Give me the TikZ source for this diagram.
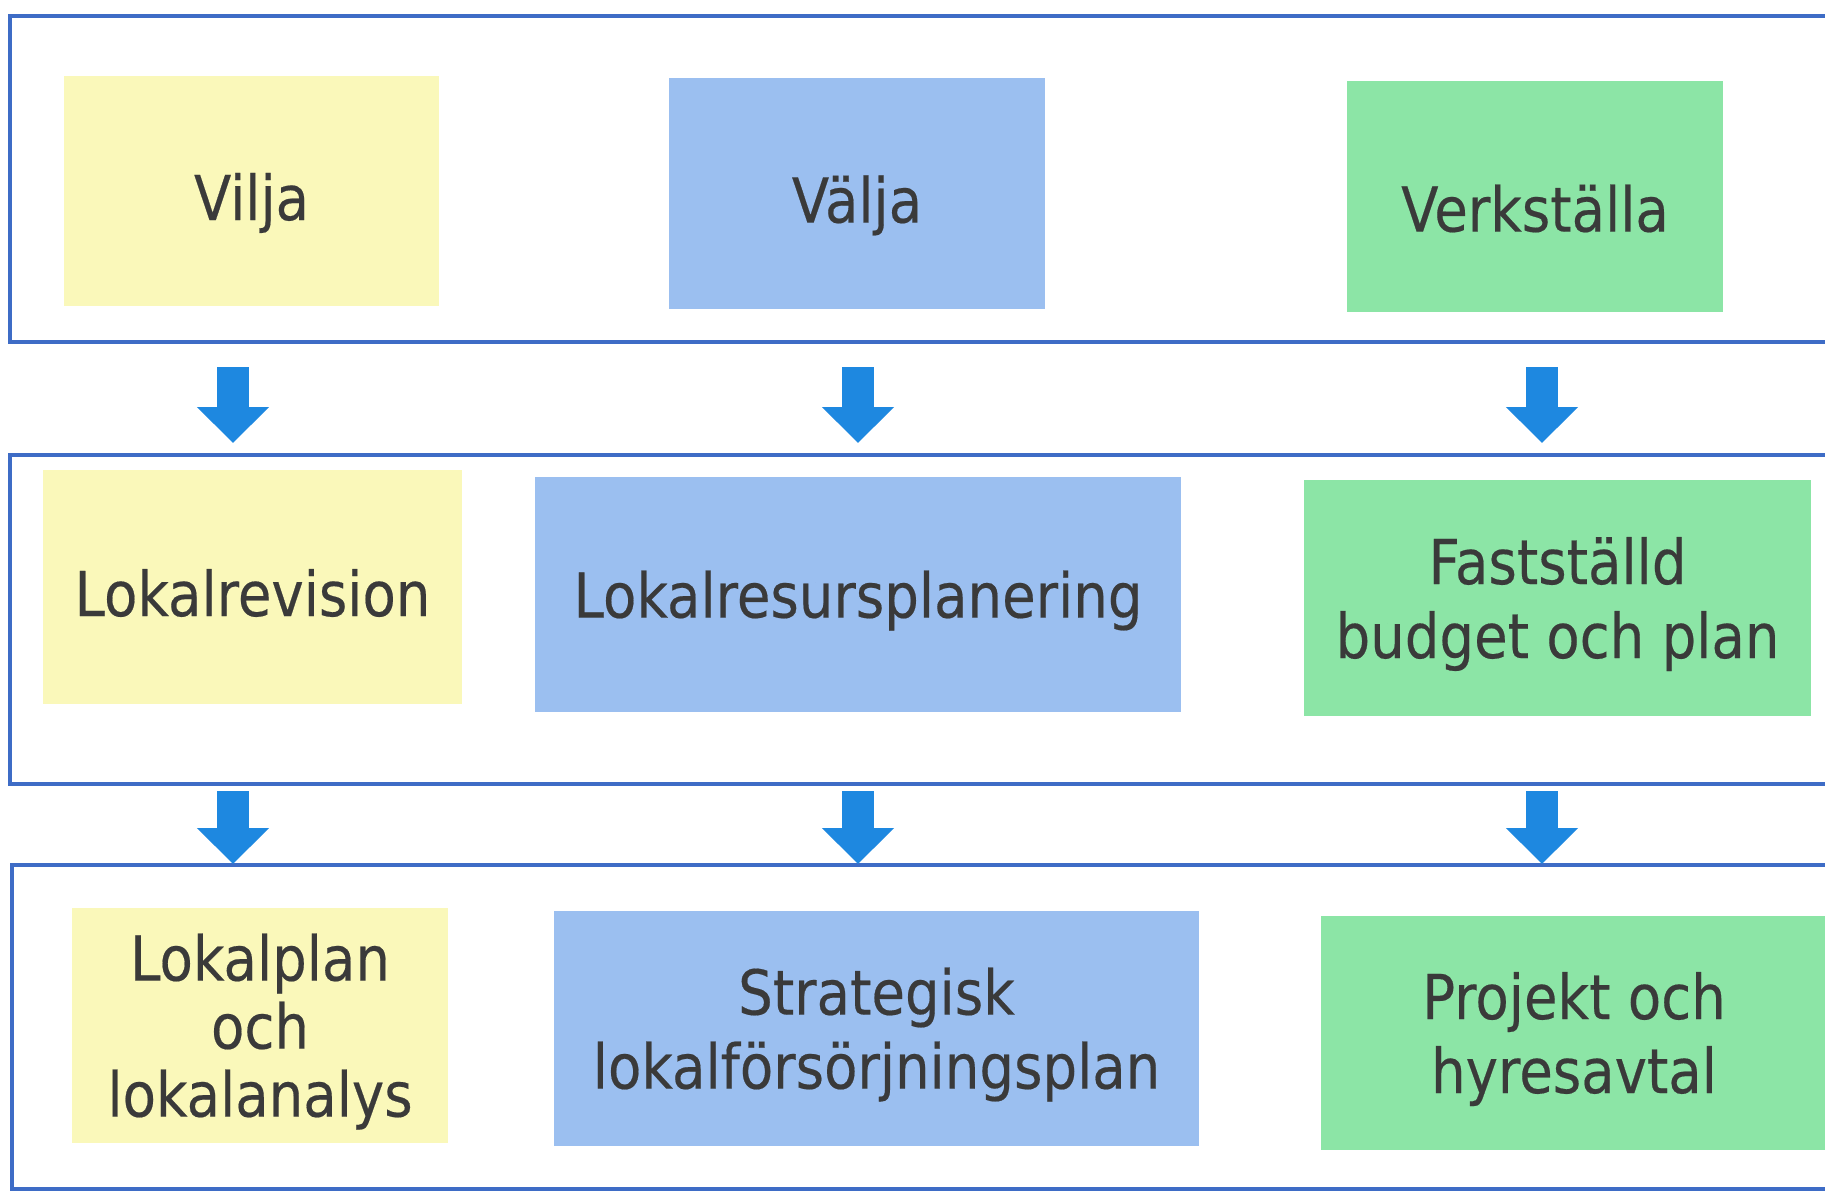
\documentclass[tikz,border=0pt]{standalone}
\usepackage{fontspec}
\setmainfont{DejaVu Sans}[FakeStretch=0.88,FakeBold=0.3]
\usetikzlibrary{arrows.meta}

\definecolor{ramblue}{RGB}{62,108,198}
\definecolor{pilblue}{RGB}{30,136,224}
\definecolor{gulfg}{RGB}{250,248,186}
\definecolor{blafg}{RGB}{155,191,240}
\definecolor{gronfg}{RGB}{140,229,166}
\definecolor{textgra}{RGB}{58,58,58}

\tikzset{
  ruta/.style={rectangle, inner sep=0pt},
  rutatext/.style={text=textgra, align=center, inner sep=0pt,
    font=\fontsize{31}{37}\selectfont, yshift=-3pt},
  txt/.style={label={[rutatext]center:{#1}}},
  txttopp/.style={label={[rutatext, yshift=-3pt]center:{#1}}},
  gul/.style={ruta, fill=gulfg},
  bla/.style={ruta, fill=blafg},
  gron/.style={ruta, fill=gronfg},
  ram/.style={draw=ramblue, line width=1.8pt},
  pil/.style={draw=pilblue, line width=16pt,
    -{Triangle[length=18pt,width=35pt]}}
}

\begin{document}
\begin{tikzpicture}[x=0.5pt, y=-0.5pt]
  \fill[white] (0,0) rectangle (1825,1193);
  \useasboundingbox (0,0) rectangle (1825,1193);
  % three frames, open to the right
  \draw[ram] (1825,16)  -| (10,342)  -- (1825,342);
  \draw[ram] (1825,455) -| (10,784)  -- (1825,784);
  \draw[ram] (1825,865) -| (12,1189) -- (1825,1189);
  % top row
  \node[gul,  minimum width=187.5pt, minimum height=115pt, txttopp=Vilja] (vilja) at (251.5,191) {};
  \node[bla,  minimum width=188pt, minimum height=115pt, txttopp=Välja] (valja) at (857,193.5) {};
  \node[gron, minimum width=188pt, minimum height=115pt, txttopp=Verkställa] (verk) at (1535,196.5) {};
  % middle row
  \node[gul,  minimum width=209.5pt, minimum height=117pt, txt=Lokalrevision] (revision) at (252.5,587) {};
  \node[bla,  minimum width=323pt, minimum height=117.5pt, txt=Lokalresursplanering] (resurs) at (858,594.5) {};
  \node[gron, minimum width=253.5pt, minimum height=118pt,
    txt=Fastställd\\budget och plan] (budget) at (1557.5,598) {};
  % bottom row
  \node[gul,  minimum width=188pt, minimum height=117.5pt,
    label={[rutatext, font=\fontsize{31}{34}\selectfont]center:{Lokalplan\\och\\lokalanalys}}]
    (lokalplan) at (260,1025.5) {};
  \node[bla,  minimum width=322.5pt, minimum height=117.5pt,
    txt=Strategisk\\lokalförsörjningsplan] (strategi) at (876.5,1028.5) {};
  \node[gron, minimum width=253pt, minimum height=117pt,
    txt=Projekt och\\hyresavtal] (projekt) at (1574,1033) {};
  % block arrows between the frames
  \foreach \x/\n in {233/1, 858/2, 1542/3} {
    \coordinate (ua\n) at (\x,367);
    \coordinate (ub\n) at (\x,443);
    \coordinate (la\n) at (\x,791);
    \coordinate (lb\n) at (\x,864);
    \draw[pil] (ua\n) -- (ub\n);
    \draw[pil] (la\n) -- (lb\n);
  }
\end{tikzpicture}
\end{document}
